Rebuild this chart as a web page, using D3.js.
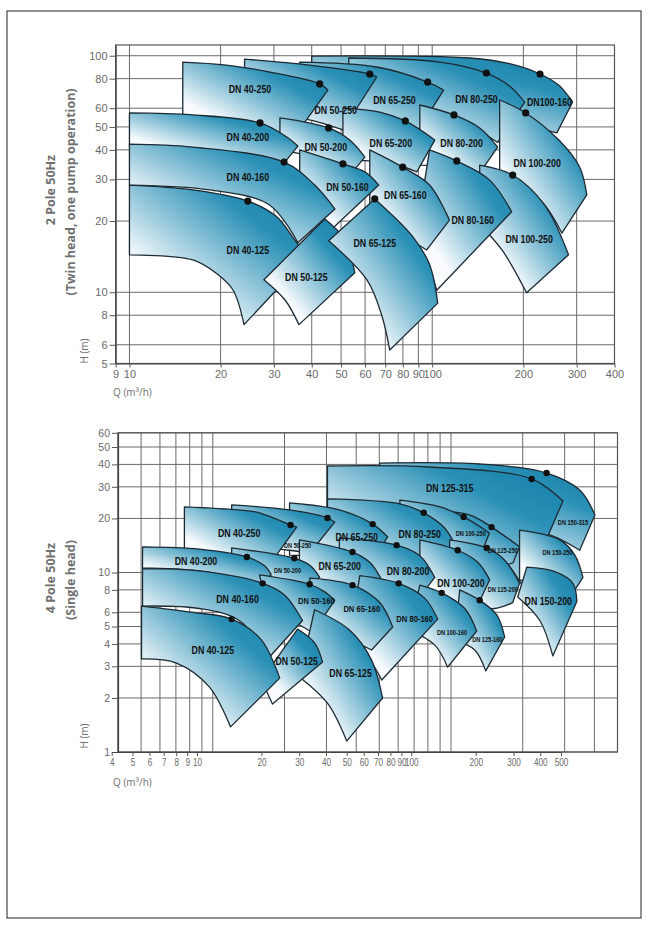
<!DOCTYPE html>
<html><head><meta charset="utf-8">
<script src="https://cdn.jsdelivr.net/npm/d3@7"></script>
<style>body{margin:0;background:#fff}</style>
</head><body><svg id="c" width="648" height="928"></svg>
<script>
// ================= 2 POLE (top chart) =================
const xTicks2 = [9,10,20,30,40,50,60,70,80,90,100,200,300,400];
const yTicks2 = [5,6,8,10,20,30,40,50,60,80,100];
// tiles in drawing order
const names2 = ["DN100-160","DN 80-250","DN 65-250","DN 50-250","DN 40-250",
  "DN 100-200","DN 80-200","DN 65-200","DN 50-200","DN 40-200",
  "DN 100-250","DN 80-160","DN 65-160","DN 50-160","DN 40-160",
  "DN 40-125","DN 50-125","DN 65-125"];
const tops2 = [
  [[40,99.7],[133,97.8],[180,92.5],[227,83.7],[262,75],[291,63.7]],
  [[53,97.8],[106,94],[151,84.5],[180,74.5],[202,63.7]],
  [[36.5,94],[65.6,89.6],[96.6,77.4],[109,71.6]],
  [[24,96.8],[39.4,91.3],[62.2,83.7],[65.6,81.3]],
  [[15,94],[20.9,91.3],[30.6,84.3],[42.5,76],[45.2,71.6]],
  [[167,65],[203.5,57.3],[262,44],[307,33.8],[324,25.8]],
  [[91,61.9],[118,56.2],[143.5,49.5],[164.5,41.1]],
  [[50.7,60.1],[67.1,57.8],[81.5,53],[102,44]],
  [[31.4,54.6],[45.5,49.5],[53.4,44],[59.9,37.3]],
  [[10,57.3],[16.2,56.2],[27,52],[33.1,45.3],[36,41.5]],
  [[143.5,34.5],[184.4,31.3],[235,23.4],[282,14.4]],
  [[98,40],[120.5,35.9],[154.8,29.8],[183,21.9]],
  [[62.2,40],[79.9,33.8],[98,28.4],[114,20.2]],
  [[36.5,40],[50.7,34.9],[59.9,32.3],[66.6,28.4]],
  [[10,42.3],[16.2,41.1],[32.4,35.5],[40.9,28.4],[47.7,22.5]],
  [[10,28.4],[16.2,27.1],[24.6,24.3],[30.6,20.9],[35.7,16.2],[39.1,14.3]],
  [[44.2,20.4],[51.4,16.7],[55.5,12.1]],
  [[64.6,24.8],[86.2,17.2],[98,13.1],[104.3,9.0]]
];
const bottoms2 = [
  [[40,56],[143,54.6],[258,47.2]],
  [[53,56],[114,54.6],[164.5,43]],
  [[36.5,56],[67,54.6],[89,47.2]],
  [[24,56],[36.5,54.6],[50.7,48.6]],
  [[15,53.5],[27,50],[34.4,44]],
  [[167,31.3],[227,24.6],[268,17.8]],
  [[91,34.5],[123,33.5],[143.5,32]],
  [[50.7,36.2],[72.4,35.2],[88.9,32.3]],
  [[31.4,40],[42.5,37],[55.9,33.5]],
  [[10,41.5],[18.4,40],[32.6,35.5]],
  [[143.5,19.3],[170,15.1],[205,9.95]],
  [[87.5,15.9],[96.6,13.1],[103.5,10.2]],
  [[62.2,19.3],[78.2,17.5],[95.9,15.1]],
  [[36.5,23.4],[42.5,21.2],[47,18.7]],
  [[10,28.4],[18.4,27.1],[29,23.4],[36,16.2]],
  [[10,14.4],[16.2,13.7],[19.4,12.0],[22,10.2],[23.9,7.3]],
  [[27.8,11.3],[32.6,9.3],[36.3,7.3]],
  [[45.5,16.5],[60.8,11.3],[68.1,8.0],[72.4,5.7]]
];
const dots2 = [[227,83.7],[151,84.5],[96.6,77.4],[62.2,83.7],[42.5,76],
  [203.5,57.3],[118,56.2],[81.5,53],[45.5,49.5],[27,52],
  [184.4,31.3],[120.5,35.9],[79.9,33.8],[50.7,34.9],[32.4,35.5],
  [24.6,24.3],null,[64.6,24.8]];
const labelAt2 = [[244,63.7],[140,65.6],[75,65],[48,59],[25,72],
  [222,35.2],[125,42.7],[73,42.7],[44.5,41.1],[24.6,45.3],
  [209,16.7],[136,20.2],[81.5,25.8],[52.5,27.9],[24.6,30.8],
  [24.6,15.1],[38.4,11.6],[64.6,16.2]];

// ================= 4 POLE (bottom chart) =================
const xTicks4 = [4,5,6,7,8,9,10,20,30,40,50,60,70,80,90,100,200,300,400,500];
const yTicks4 = [1,2,3,4,5,6,8,10,20,30,40,50,60];
const names4 = ["DN 150-315","DN 125-315",
  "DN 150-250","DN 125-250","DN 100-250","DN 80-250","DN 65-250","DN 50-250","DN 40-250",
  "DN 150-200","DN 125-200","DN 100-200","DN 80-200","DN 65-200","DN 50-200","DN 40-200",
  "DN 125-160","DN 100-160","DN 80-160","DN 65-160","DN 50-160","DN 40-160",
  "DN 65-125","DN 50-125","DN 40-125"];
const tops4 = [
  [[50.2,40.7],[132,40.2],[252,35.8],[347,28.8],[402,20.9]],
  [[30.3,39.2],[81.4,38.7],[218,33.2],[295,25]],
  [[194,17.2],[286,15.2],[331,12.5],[358,9.4]],
  [[74,22.3],[120,20.9],[148,17.9],[194,13.9]],
  [[61,25.3],[90,23.2],[113,20.4],[145,16.6]],
  [[30.3,25.7],[61,24.1],[76.8,21.5],[94,17.7],[105.7,13.7]],
  [[21,24.4],[34,22.3],[46.9,18.6],[54.2,15.8]],
  [[12,23.8],[21,22.3],[30.3,20.1],[32.5,19.1]],
  [[7.6,23.2],[12.9,22.3],[15.7,21.5],[21.2,18.4],[22.5,17.9]],
  [[208,10.7],[273,10.1],[325,8.7],[337.5,6.9]],
  [[98.7,15.2],[141.3,13.7],[168,11.7],[194,8.7]],
  [[74,15.2],[106.7,13.3],[129.5,11.4],[145.4,9.1]],
  [[34,15.6],[59.1,14.2],[74,12.4],[85.4,9.4]],
  [[23.1,15.2],[38.6,13],[45.6,11.4],[50.7,9.3]],
  [[12,13.7],[22,12],[25.5,11],[28.1,9.4]],
  [[5.07,13.9],[8.79,13.5],[13.9,12.2],[16.5,10.9],[17.6,9.7]],
  [[108.8,8],[132,7],[155.6,5.8],[168,4.37]],
  [[74,8.5],[91.4,7.7],[114.2,6.3],[128.2,4.72]],
  [[41.4,9.6],[60.3,8.7],[77.5,7.2],[87.9,5.5]],
  [[25.5,9.3],[38.6,8.5],[50.2,6.8],[56.9,4.97]],
  [[15.7,9.7],[25.5,8.6],[29.5,7.8],[32.5,7]],
  [[5.07,10.5],[8.79,10.2],[16.2,8.7],[20,7.5],[23.8,5.4]],
  [[26.75,6.2],[37.5,4.78],[46.4,3.25],[51.6,2]],
  [[22.7,4.84],[26.75,4.05],[28.9,3.17]],
  [[5.02,6.5],[8.22,6.0],[12,5.5],[16,4.21],[19.1,2.58]]
];
const bottoms4 = [
  [[50.2,19.6],[160,18.4],[260,16.2],[347,13.3]],
  [[30.3,19.6],[98.7,18.4],[160,12.5],[204,8.0]],
  [[194,9.1],[325,7.7]],
  [[74,11],[145,10.6],[182,11.3]],
  [[61,11.7],[99,11.7],[132,12.2]],
  [[30.3,11.7],[61,11],[85.4,9.1]],
  [[21,12.5],[34,12],[45.6,11]],
  [[12,14.2],[21,13.3],[25.5,12.8]],
  [[7.6,12.5],[11.7,11.7],[17,10.7]],
  [[190.6,7.3],[236,5.4],[267.5,3.43]],
  [[98.7,6.6],[152.6,6.3],[181.6,6.8]],
  [[74,7],[108.8,6.6],[128.2,6.4]],
  [[34,7.5],[61,7.2],[74,7.3]],
  [[23.1,8],[35.8,7.8],[44.2,7.3]],
  [[12,9.1],[19.1,8.7],[24.3,8]],
  [[5.07,10.6],[8.79,10.2],[16,8.7]],
  [[103.6,4.21],[125.8,3.7],[139.9,2.83]],
  [[67.1,4.78],[85.4,3.95],[96.8,2.97]],
  [[37.5,4.21],[45.6,3.25],[51.2,2.52]],
  [[28.1,4.78],[37.5,4.21],[46.4,3.7]],
  [[17.3,5.8],[23.1,5.1],[26.2,4.6]],
  [[5.07,6.5],[8.79,6.3],[12.9,5.4],[17.3,3.38]],
  [[23.1,2.62],[30.3,1.87],[36.5,1.15]],
  [[16,2.52],[17.8,1.85]],
  [[5.02,3.3],[7.04,3.13],[9.69,2.3],[11.87,1.38]]
];
const dots4 = [[252,35.8],[218,33.2],
  null,[148,17.9],[113,20.4],[76.8,21.5],[46.9,18.6],[30.3,20.1],[21.2,18.4],
  null,[141.3,13.7],[106.7,13.3],[59.1,14.2],[38.6,13],[22,12],[13.9,12.2],
  [132,7],[91.4,7.7],[60.3,8.7],[38.6,8.5],[25.5,8.6],[16.2,8.7],
  null,null,[12,5.5]];
const labelAt4 = [[325,19.1],[98.7,29.6],
  [280,13.0],[165,13.3],[121,16.6],[73.9,16.4],[40.2,15.8],[22.7,14.2],[12.9,16.6],
  [256,6.9],[165,8.1],[110,8.7],[66,10.2],[34.1,10.9],[20.6,10.3],[8.5,11.6],
  [142,4.26],[101,4.66],[70.4,5.5],[42.2,6.25],[27.2,7],[12.7,7.1],
  [37.9,2.75],[22.5,3.21],[10,3.7]];

// ================= drawing =================
const svg = d3.select("#c");
svg.append("rect").attr("x",7).attr("y",11).attr("width",634).attr("height",907)
  .attr("fill","none").attr("stroke","#222").attr("stroke-width",1);

const defs = svg.append("defs");
const grad = defs.append("linearGradient").attr("id","tileGrad")
  .attr("x1",0).attr("y1",1).attr("x2",1).attr("y2",0);
[[0,"#ffffff"],[0.25,"#f8fbfd"],[0.72,"#2a90b6"],[0.9,"#1a84ac"],[1,"#3094b9"]]
  .forEach(([o,c]) => grad.append("stop").attr("offset",o).attr("stop-color",c));

const labelFont = "'Liberation Sans',Arial,sans-serif";
const small4 = new Set(["DN 50-250","DN 50-200","DN 100-250","DN 125-250","DN 150-250","DN 125-200","DN 150-315","DN 100-160","DN 125-160"]);
const medium4 = new Set(["DN 50-160","DN 65-160","DN 80-160"]);

function drawChart(o) {
  const {xs, xl, ys, xTicks, yTicks, names, tops, bottoms, dots, labelAt, dotR, sizeOf} = o;
  const [x0, x1] = xs.range();
  const [yB, yT] = ys.range();
  const root = svg.append("g");
  // grid
  root.append("g").selectAll("line").data(xTicks).join("line")
    .attr("x1", d => xs(d)).attr("x2", d => xs(d)).attr("y1", yT).attr("y2", yB)
    .attr("stroke", "#6a6a6a").attr("stroke-width", 1);
  root.append("g").selectAll("line").data(yTicks).join("line")
    .attr("y1", d => ys(d)).attr("y2", d => ys(d)).attr("x1", x0).attr("x2", x1)
    .attr("stroke", "#6a6a6a").attr("stroke-width", 1);
  root.append("rect").attr("x", x0).attr("y", yT).attr("width", x1 - x0).attr("height", yB - yT)
    .attr("fill", "none").attr("stroke", "#555").attr("stroke-width", 1.2);
  // axes
  const ya = root.append("g").attr("transform", `translate(${x0},0)`)
    .call(d3.axisLeft(ys).tickValues(yTicks).tickFormat(d3.format("d")).tickSize(6).tickSizeOuter(0).tickPadding(2));
  const xa = root.append("g").attr("transform", `translate(0,${yB})`)
    .call(d3.axisBottom(xl).tickValues(xTicks).tickFormat(d3.format("d")).tickSize(4).tickSizeOuter(0).tickPadding(3));
  [ya, xa].forEach(a => {
    a.selectAll("path.domain").attr("stroke", "#444").attr("stroke-width", 1.2);
    a.selectAll(".tick line").attr("stroke", "#555");
    a.selectAll("text").attr("fill", "#6a6a6a").attr("font-family", "'Liberation Sans',Arial,sans-serif")
      .attr("font-size", o.tickFont);
  });
  xa.selectAll("text").attr("transform", `scale(${o.xTickSqueeze},1)`);
  // tiles
  const line = d3.line().x(d => xs(d[0])).y(d => ys(d[1])).curve(d3.curveCatmullRom.alpha(0.5));
  const tilePath = (t, b) => line(t) + line(b.slice().reverse()).replace(/^M/, "L") + "Z";
  root.append("g").selectAll("path").data(names).join("path")
    .attr("d", (d, i) => tilePath(tops[i], bottoms[i]))
    .attr("fill", "url(#tileGrad)").attr("stroke", "#1c2a33").attr("stroke-width", 1.3)
    .attr("stroke-linejoin", "round");
  root.append("g").selectAll("circle").data(dots.filter(d => d)).join("circle")
    .attr("cx", d => xs(d[0])).attr("cy", d => ys(d[1])).attr("r", dotR).attr("fill", "#111");
  root.append("g").selectAll("text").data(names).join("text")
    .attr("transform", (d, i) => `translate(${xs(labelAt[i][0])},${ys(labelAt[i][1])}) scale(0.8,1)`)
    .attr("text-anchor", "middle").attr("dominant-baseline", "central")
    .attr("font-family", labelFont).attr("font-weight", "bold")
    .attr("font-size", d => sizeOf(d)).attr("fill", "#111").text(d => d);
}

// top chart
const xs2 = d3.scaleLog().domain([9, 400]).range([115.6, 614.5]);
const ys2 = d3.scaleLog().domain([5, 111]).range([363.5, 45]);
drawChart({xs: xs2, xl: xs2, ys: ys2, xTicks: xTicks2, yTicks: yTicks2, names: names2,
  tops: tops2, bottoms: bottoms2, dots: dots2, labelAt: labelAt2, dotR: 3.6,
  sizeOf: () => 11, tickFont: 11, xTickSqueeze: 1});

// bottom chart (grid is wider than the printed tick scale, as in the original)
const xs4 = d3.scaleLog().domain([4, 500]).range([118, 617.5]);
const xl4 = d3.scaleLog().domain([4, 500]).range([111.7, 561]);
const ys4 = d3.scaleLog().domain([1, 60]).range([752, 432.8]);
drawChart({xs: xs4, xl: xl4, ys: ys4, xTicks: xTicks4, yTicks: yTicks4, names: names4,
  tops: tops4, bottoms: bottoms4, dots: dots4, labelAt: labelAt4, dotR: 3.2,
  sizeOf: d => small4.has(d) ? 7 : (medium4.has(d) ? 9.5 : 11), tickFont: 10.5, xTickSqueeze: 0.78});

// titles
const titleFont = "'Open Sans','DejaVu Sans',sans-serif";
function vtext(x, y, txt, size, weight) {
  svg.append("text").attr("transform", `translate(${x},${y}) rotate(-90)`)
    .attr("text-anchor", "middle").attr("dominant-baseline", "central")
    .attr("font-family", titleFont).attr("font-size", size).attr("font-weight", weight)
    .attr("fill", "#707070").text(txt);
}
vtext(50, 190, "2 Pole 50Hz", 12.5, "bold");
vtext(70, 192, "(Twin head, one pump operation)", 12.5, "bold");
vtext(84, 351, "H (m)", 10, "normal");
vtext(50, 578, "4 Pole 50Hz", 12.5, "bold");
vtext(70, 580, "(Single head)", 12.5, "bold");
vtext(84, 736, "H (m)", 10, "normal");
svg.append("text").attr("x", 113).attr("y", 396).attr("font-family", titleFont)
  .attr("font-size", 10).attr("fill", "#707070").text("Q (m³/h)");
svg.append("text").attr("x", 113).attr("y", 786).attr("font-family", titleFont)
  .attr("font-size", 10).attr("fill", "#707070").text("Q (m³/h)");
</script>
</body></html>
